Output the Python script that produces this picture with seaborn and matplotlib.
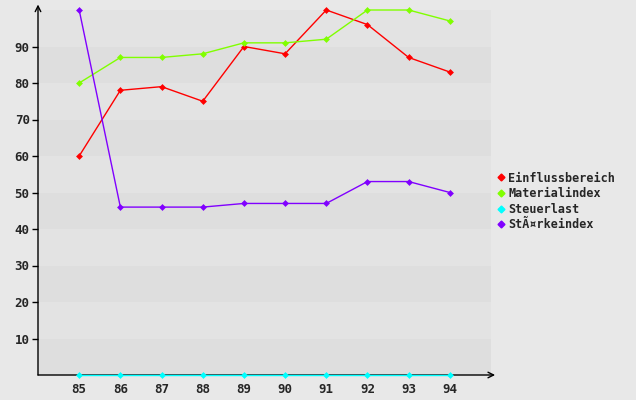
import matplotlib
matplotlib.use("Agg")
import matplotlib.pyplot as plt
from matplotlib.lines import Line2D
import seaborn as sns
import pandas as pd

years = [85, 86, 87, 88, 89, 90, 91, 92, 93, 94]
einfluss = [60, 78, 79, 75, 90, 88, 100, 96, 87, 83]
material = [80, 87, 87, 88, 91, 91, 92, 100, 100, 97]
steuer = [0, 0, 0, 0, 0, 0, 0, 0, 0, 0]
staerke = [100, 46, 46, 46, 47, 47, 47, 53, 53, 50]
series_names = ["Einflussbereich", "Materialindex", "Steuerlast", "StÃ¤rkeindex"]
y_ticks = [10, 20, 30, 40, 50, 60, 70, 80, 90]

colors = ["#ff0000", "#80ff00", "#00ffff", "#8000ff"]

df = pd.DataFrame({
    "year": years * 4,
    "value": einfluss + material + steuer + staerke,
    "series": sum([[n] * len(years) for n in series_names], []),
})

sns.set_style("white")
plt.rcParams["font.family"] = ["DejaVu Sans Mono"]

fig = plt.figure(figsize=(6.36, 4.0), dpi=100, facecolor="#e8e8e8")
ax = fig.add_axes([38 / 636, 25 / 400, 453 / 636, 365 / 400])
ax.set_facecolor("#e8e8e8")

# background stripes
for i in range(10):
    ax.axhspan(i * 10, i * 10 + 10, color="#dedede" if i % 2 == 0 else "#e3e3e3", zorder=0, lw=0)

sns.lineplot(data=df, x="year", y="value", hue="series", palette=colors,
             hue_order=series_names, marker="D", markersize=3.5, markeredgewidth=0,
             linewidth=1, ax=ax, legend=False, zorder=3, clip_on=False)

ax.set_xlim(84, 95)
ax.set_ylim(0, 100)
ax.set_xticks(years)
ax.set_xticklabels([str(y) for y in years], fontsize=9, fontweight="bold")
ax.set_yticks(y_ticks)
ax.set_yticklabels([str(y) for y in y_ticks], fontsize=9, fontweight="bold")
ax.tick_params(axis="x", length=0, pad=6)
ax.tick_params(axis="y", length=4, width=1, color="black", pad=2, left=True)
ax.set_xlabel("")
ax.set_ylabel("")
for s in ax.spines.values():
    s.set_visible(False)

# axes with arrows
ax.annotate("", xy=(95.1, 0), xytext=(84, 0), xycoords="data",
            arrowprops=dict(arrowstyle="->", color="black", lw=1, shrinkA=0, shrinkB=0),
            annotation_clip=False, zorder=2)
ax.annotate("", xy=(84, 101.5), xytext=(84, 0), xycoords="data",
            arrowprops=dict(arrowstyle="->", color="black", lw=1, shrinkA=0, shrinkB=0),
            annotation_clip=False, zorder=2)

handles = [Line2D([], [], color=c, marker="D", markersize=3.5, linestyle="none") for c in colors]
leg = fig.legend(handles, series_names, loc="upper left", bbox_to_anchor=(487 / 636, 1 - 161 / 400),
                 frameon=False, handlelength=0.6, handletextpad=0.3, labelspacing=0.22,
                 prop={"weight": "bold", "size": 8.5})

fig.savefig("out.png", dpi=100, facecolor=fig.get_facecolor())
